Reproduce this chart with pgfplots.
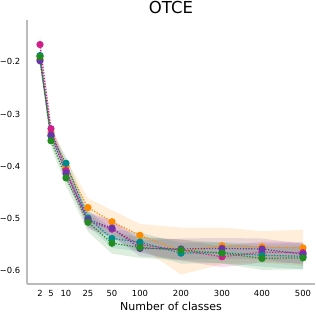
\documentclass[border=0pt]{standalone}
\usepackage{fontspec}
\setmainfont{DejaVu Sans}
\usepackage{pgfplots}
\usepackage{pgfplotstable}
\pgfplotsset{compat=1.18}
\usepgfplotslibrary{fillbetween}
\definecolor{cor}{HTML}{FF8C00}
\definecolor{cma}{HTML}{D0208C}
\definecolor{cte}{HTML}{008B8B}
\definecolor{cpu}{HTML}{6A35A8}
\definecolor{cgr}{HTML}{228B22}
\definecolor{spine}{HTML}{BBBBBB}
% x = plotting position, then mean and half-width per series
\pgfplotstableread{
x   o      oh     m      mh     t      th     p      ph     g      gh
40  -0.195 0.010  -0.167 0.015  -0.188 0.008  -0.198 0.010  -0.190 0.010
51  -0.335 0.012  -0.328 0.010  -0.342 0.010  -0.340 0.010  -0.351 0.012
66  -0.400 0.015  -0.408 0.012  -0.394 0.012  -0.413 0.012  -0.422 0.015
88  -0.479 0.018  -0.505 0.015  -0.499 0.015  -0.502 0.015  -0.507 0.018
112 -0.506 0.022  -0.520 0.015  -0.538 0.018  -0.518 0.015  -0.547 0.020
140 -0.532 0.022  -0.550 0.015  -0.545 0.018  -0.557 0.015  -0.555 0.020
181 -0.562 0.045  -0.560 0.020  -0.566 0.020  -0.558 0.020  -0.560 0.020
222 -0.552 0.035  -0.573 0.020  -0.565 0.020  -0.557 0.020  -0.566 0.020
262 -0.554 0.030  -0.564 0.020  -0.570 0.022  -0.558 0.020  -0.576 0.022
303 -0.556 0.035  -0.565 0.020  -0.572 0.025  -0.568 0.020  -0.575 0.022
}\data
\newcommand{\band}[3]{%
  \addplot[name path=#1u, draw=none, forget plot] table[x=x, y expr=\thisrow{#1}+\thisrow{#2}] {\data};
  \addplot[name path=#1l, draw=none, forget plot] table[x=x, y expr=\thisrow{#1}-\thisrow{#2}] {\data};
  \addplot[fill=#3, fill opacity=0.15, draw=none, forget plot] fill between[of=#1u and #1l];
}
\newcommand{\series}[2]{%
  \addplot[color=#2, line width=1.2pt, dash pattern=on 1.2pt off 1.6pt, mark=*, mark size=3pt, mark options={solid}] table[x=x, y=#1] {\data};
}
\begin{document}
\begin{tikzpicture}
\begin{axis}[
  name=ax,
  scale only axis,
  width=288pt, height=264pt,
  xmin=27, xmax=315,
  ymin=-0.625, ymax=-0.12,
  axis x line*=bottom, axis y line*=left,
  axis line style={spine, line width=1.2pt},
  major tick length=0pt,
  xtick={40,51,66,88,112,140,181,222,262,303},
  xticklabels={2,5,10,25,50,100,200,300,400,500},
  ytick={-0.6,-0.5,-0.4,-0.3,-0.2},
  yticklabels={−0.6,−0.5,−0.4,−0.3,−0.2},
  tick label style={font=\fontsize{8.4}{10}\selectfont},
  yticklabel style={xshift=-3.2pt},
  xticklabel style={yshift=-3.2pt},
  xlabel={Number of classes},
  xlabel style={font=\fontsize{11}{13}\selectfont, at={(0.5,0)}, anchor=base, yshift=-26.7pt},
  title={OTCE},
  every axis title shift=0pt,
  title style={font=\fontsize{16.5}{19}\selectfont, at={(0.5,1)}, anchor=base, yshift=6.5pt},
  clip=false,
]
\band{o}{oh}{cor}
\band{m}{mh}{cma}
\band{t}{th}{cte}
\band{p}{ph}{cpu}
\band{g}{gh}{cgr}
\series{o}{cor}
\series{m}{cma}
\series{t}{cte}
\series{p}{cpu}
\series{g}{cgr}
\end{axis}
\pgfresetboundingbox
\path[use as bounding box] ([xshift=-27pt,yshift=-30pt]ax.south west) rectangle ([xshift=1pt,yshift=20pt]ax.north east);
\end{tikzpicture}
\end{document}
